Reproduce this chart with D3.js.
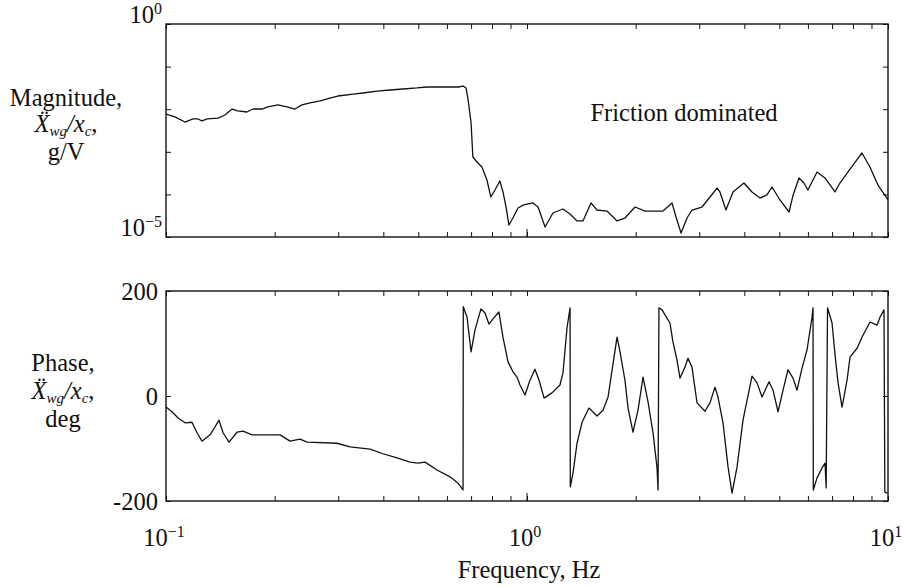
<!DOCTYPE html>
<html>
<head>
<meta charset="utf-8">
<script src="https://cdn.jsdelivr.net/npm/d3@7"></script>
<style>
  html, body { margin: 0; padding: 0; background: #fff; }
  svg { display: block; }
  text { font-family: "Liberation Serif", "Times New Roman", serif; fill: #111; }
</style>
</head>
<body>
<svg id="chart"></svg>
<script>
// Magnitude response (frequency in Hz, |Xwg/xc| in g/V)
const magFreq = [0.1, 0.1059, 0.1129, 0.1188, 0.1227, 0.1258, 0.130, 0.1393, 0.1456, 0.1524,
  0.158, 0.1675, 0.1742, 0.1845, 0.1916, 0.204, 0.2163, 0.2275, 0.238, 0.2506,
  0.2673, 0.2844, 0.299, 0.330, 0.3514, 0.384, 0.4175, 0.4535, 0.4955, 0.528,
  0.585, 0.644, 0.665, 0.678, 0.687, 0.700, 0.708, 0.727, 0.750, 0.7745,
  0.794, 0.815, 0.841, 0.858, 0.875, 0.891, 0.914, 0.944, 0.975, 1.007,
  1.039, 1.073, 1.122, 1.18, 1.258, 1.315, 1.376, 1.429, 1.504, 1.563,
  1.666, 1.776, 1.868, 1.992, 2.123, 2.38, 2.522, 2.587, 2.671, 2.775,
  2.865, 3.053, 3.214, 3.36, 3.424, 3.557, 3.721, 3.99, 4.2, 4.42,
  4.62, 4.77, 5.02, 5.32, 5.46, 5.67, 5.85, 6.0, 6.36, 6.69,
  7.13, 7.36, 7.75, 8.47, 8.91, 9.38, 10.0];
const magValue = [7.7e-3, 6.6e-3, 5.0e-3, 5.9e-3, 5.9e-3, 5.3e-3, 5.9e-3, 6.2e-3, 7.3e-3, 1.01e-2,
  9.1e-3, 8.6e-3, 1.01e-2, 1.01e-2, 1.13e-2, 1.26e-2, 1.13e-2, 1.01e-2, 1.26e-2, 1.40e-2,
  1.56e-2, 1.83e-2, 2.04e-2, 2.27e-2, 2.40e-2, 2.67e-2, 2.82e-2, 2.98e-2, 3.15e-2, 3.32e-2,
  3.32e-2, 3.32e-2, 3.5e-2, 3.15e-2, 1.64e-2, 4.74e-3, 7.55e-4, 5.77e-4, 4.4e-4, 2.18e-4,
  8.7e-5, 1.27e-4, 2.06e-4, 1.14e-4, 5.06e-5, 1.91e-5, 2.79e-5, 4.8e-5, 5.6e-5, 5.96e-5,
  6.3e-5, 5.06e-5, 1.72e-5, 3.66e-5, 4.54e-5, 3.47e-5, 2.38e-5, 2.38e-5, 6.3e-5, 4.3e-5,
  4.07e-5, 2.38e-5, 2.79e-5, 5.06e-5, 4.07e-5, 4.07e-5, 6.3e-5, 2.95e-5, 1.24e-5, 2.79e-5,
  4.3e-5, 5.06e-5, 8.7e-5, 1.41e-4, 1.14e-4, 4.3e-5, 1.14e-4, 1.85e-4, 1.14e-4, 8.2e-5,
  9.7e-5, 1.49e-4, 7.4e-5, 3.86e-5, 9.7e-5, 2.43e-4, 1.85e-4, 1.27e-4, 3.36e-4, 2.43e-4,
  1.14e-4, 1.85e-4, 3.36e-4, 9.4e-4, 4.4e-4, 1.66e-4, 7.4e-5];

// Phase response (frequency in Hz, degrees)
const phaseFreq = [0.1, 0.1039, 0.108, 0.1129, 0.118, 0.1219, 0.1258, 0.1324, 0.1367, 0.1402,
  0.1439, 0.1495, 0.1573, 0.1634, 0.1731, 0.207, 0.2206, 0.2351, 0.2458, 0.2977,
  0.3234, 0.3674, 0.3991, 0.4365, 0.4743, 0.4991, 0.5219, 0.5633, 0.612, 0.6442,
  0.665, 0.666, 0.6823, 0.6999, 0.7178, 0.7456, 0.7649, 0.7846, 0.8048, 0.8362,
  0.8578, 0.886, 0.9147, 0.9383, 0.9564, 0.9874, 1.019, 1.052, 1.08, 1.115,
  1.173, 1.234, 1.258, 1.291, 1.316, 1.318, 1.341, 1.376, 1.421, 1.485,
  1.563, 1.624, 1.677, 1.742, 1.776, 1.81, 1.868, 1.905, 1.966, 2.03,
  2.096, 2.164, 2.234, 2.292, 2.307, 2.32, 2.366, 2.489, 2.537, 2.603,
  2.653, 2.739, 2.792, 2.864, 2.958, 3.112, 3.213, 3.317, 3.381, 3.491,
  3.605, 3.698, 3.818, 3.966, 4.201, 4.337, 4.478, 4.682, 4.803, 4.959,
  5.12, 5.284, 5.456, 5.597, 5.779, 5.966, 6.16, 6.199, 6.21, 6.359,
  6.566, 6.693, 6.74, 6.80, 6.998, 7.134, 7.272, 7.459, 7.701, 7.849,
  8.208, 8.472, 8.915, 9.322, 9.502, 9.748, 9.80, 9.94];
const phaseDeg = [-21, -30, -42, -51, -50, -70, -86, -74, -59, -46,
  -70, -88, -69, -67, -74, -74, -86, -82, -88, -90,
  -97, -101, -110, -118, -126, -128, -126, -141, -154, -166,
  -179, 170, 150, 84, 126, 166, 158, 137, 147, 160,
  112, 65, 46, 36, 21, 2, 30, 51, 30, -4,
  6, 21, 44, 130, 168, -173, -147, -90, -50, -23,
  -38, -27, -2, 74, 112, 84, 30, -23, -69, -27,
  36, -11, -70, -137, -179, 168, 164, 139, 103, 69,
  34, 55, 72, 55, -13, -29, -13, 17, -2, -51,
  -135, -185, -135, -46, 38, 25, -2, 27, 11, -30,
  11, 50, 34, 11, 53, 88, 150, 168, -179, -156,
  -137, -128, -175, 168, 139, 78, 25, -21, 30, 74,
  91, 112, 141, 135, 150, 164, -183, -185];

// axis tick values / labels
const freqDomain = [0.1, 10];
const freqLabelExp = [-1, 0, 1];
const magDomain = [1e-5, 1];
const magDecadeExp = [0, -1, -2, -3, -4, -5];
const magLabelExp = [0, -5];
const phaseDomain = [-200, 200];
const phaseTicks = [-200, 0, 200];

const W = 904, H = 587;
const left = 166, right = 888;
const top1 = 24, bottom1 = 237;
const top2 = 291, bottom2 = 501;
const fontSize = 24.5, supSize = 16;

const svg = d3.select('#chart').attr('width', W).attr('height', H);

const x = d3.scaleLog().domain(freqDomain).range([left, right]);
const yMag = d3.scaleLog().domain(magDomain).range([bottom1, top1]);
const yPh = d3.scaleLinear().domain(phaseDomain).range([bottom2, top2]);

// minor log ticks 0.1..10
const minorTicks = [];
[-1, 0].forEach(e => {
  for (let k = 1; k <= 9; k++) minorTicks.push(k * Math.pow(10, e));
});
minorTicks.push(10);

const drawFrame = (yTop, yBot, yScale, yTickVals) => {
  const g = svg.append('g');

  // x ticks, inward on bottom and top
  g.append('g')
    .attr('transform', `translate(0,${yBot})`)
    .call(d3.axisBottom(x).tickValues(minorTicks).tickSize(-5).tickFormat(''))
    .call(a => a.select('.domain').remove());
  g.append('g')
    .attr('transform', `translate(0,${yTop})`)
    .call(d3.axisTop(x).tickValues(minorTicks).tickSize(-5).tickFormat(''))
    .call(a => a.select('.domain').remove());
  // longer tick at 10^0
  g.append('line').attr('x1', x(1)).attr('x2', x(1)).attr('y1', yBot).attr('y2', yBot - 8);

  // y ticks, inward on left and right
  g.append('g')
    .attr('transform', `translate(${left},0)`)
    .call(d3.axisLeft(yScale).tickValues(yTickVals).tickSize(-5).tickFormat(''))
    .call(a => a.select('.domain').remove());
  g.append('g')
    .attr('transform', `translate(${right},0)`)
    .call(d3.axisRight(yScale).tickValues(yTickVals).tickSize(-5).tickFormat(''))
    .call(a => a.select('.domain').remove());

  g.selectAll('line').attr('stroke', '#111').attr('stroke-width', 1);

  g.append('rect')
    .attr('x', left).attr('y', yTop)
    .attr('width', right - left).attr('height', yBot - yTop)
    .attr('fill', 'none').attr('stroke', '#111').attr('stroke-width', 1.4);
};

drawFrame(top1, bottom1, yMag, magDecadeExp.map(e => Math.pow(10, e)));
drawFrame(top2, bottom2, yPh, phaseTicks);

// power-of-ten label helper
const powLabel = (sel, exp) => {
  sel.append('tspan').text('10');
  sel.append('tspan').attr('font-size', supSize).attr('dy', -9)
    .text(exp < 0 ? '\u2212' + Math.abs(exp) : String(exp));
};

// magnitude y labels
magLabelExp.forEach(e => {
  const t = svg.append('text')
    .attr('x', left - 4).attr('y', yMag(Math.pow(10, e)) - 1)
    .attr('text-anchor', 'end').attr('font-size', fontSize);
  powLabel(t, e);
});

// phase y labels
svg.selectAll('.phlab')
  .data(phaseTicks)
  .enter()
  .append('text')
  .attr('class', 'phlab')
  .attr('x', left - 8).attr('y', d => yPh(d))
  .attr('dy', '0.35em')
  .attr('text-anchor', 'end').attr('font-size', fontSize)
  .text(d => d < 0 ? '-' + Math.abs(d) : d);

// x labels
freqLabelExp.forEach(e => {
  const t = svg.append('text')
    .attr('x', x(Math.pow(10, e)) - 2).attr('y', 546)
    .attr('text-anchor', 'middle').attr('font-size', fontSize);
  powLabel(t, e);
});

svg.append('text')
  .attr('x', 529).attr('y', 578)
  .attr('text-anchor', 'middle').attr('font-size', fontSize)
  .text('Frequency, Hz');

svg.append('text')
  .attr('x', 684).attr('y', 121)
  .attr('text-anchor', 'middle').attr('font-size', fontSize)
  .text('Friction dominated');

// y axis titles
const axisTitle = (cx, first, last, ys) => {
  svg.append('text').attr('x', cx).attr('y', ys[0])
    .attr('text-anchor', 'middle').attr('font-size', fontSize).text(first);

  const t = svg.append('text').attr('x', cx).attr('y', ys[1])
    .attr('text-anchor', 'middle').attr('font-size', fontSize).attr('font-style', 'italic');
  t.append('tspan').text('X\u0308');
  t.append('tspan').attr('font-size', 15).attr('dy', 4).text('wg');
  t.append('tspan').attr('dy', -4).text('/x');
  t.append('tspan').attr('font-size', 15).attr('dy', 4).text('c');
  t.append('tspan').attr('dy', -4).attr('font-style', 'normal').text(',');

  svg.append('text').attr('x', cx).attr('y', ys[2])
    .attr('text-anchor', 'middle').attr('font-size', fontSize).text(last);
};

axisTitle(66, 'Magnitude,', 'g/V', [106, 132, 160]);
axisTitle(63, 'Phase,', 'deg', [371, 399, 427]);

// curves
const magData = magFreq.map((f, i) => [f, magValue[i]]);
const phData = phaseFreq.map((f, i) => [f, phaseDeg[i]]);

svg.append('path')
  .datum(magData)
  .attr('fill', 'none').attr('stroke', '#111').attr('stroke-width', 1.3)
  .attr('stroke-linejoin', 'round')
  .attr('d', d3.line().x(d => x(d[0])).y(d => yMag(d[1])));

svg.append('path')
  .datum(phData)
  .attr('fill', 'none').attr('stroke', '#111').attr('stroke-width', 1.3)
  .attr('stroke-linejoin', 'round')
  .attr('d', d3.line().x(d => x(d[0])).y(d => yPh(d[1])));
</script>
</body>
</html>
